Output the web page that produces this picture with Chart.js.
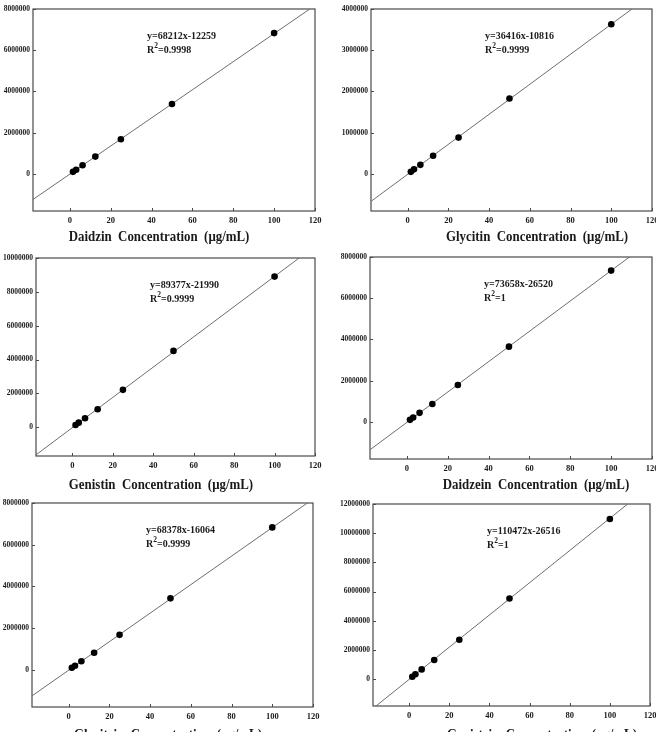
<!DOCTYPE html>
<html><head><meta charset="utf-8">
<script src="https://cdn.jsdelivr.net/npm/chart.js@4.4.1/dist/chart.umd.min.js"></script>
<style>
html,body{margin:0;padding:0;background:#fff;width:656px;height:732px;overflow:hidden;position:relative}
canvas{position:absolute}
</style></head><body>
<script>
// ---------- DATA ----------
const concentrations = [1.5625, 3.125, 6.25, 12.5, 25, 50, 100];
const compounds = ['Daidzin', 'Glycitin', 'Genistin', 'Daidzein', 'Glycitein', 'Genistein'];
const daidzinArea   = [100000, 200000, 420000, 840000, 1680000, 3390000, 6830000];
const glycitinArea  = [50000, 110000, 220000, 440000, 880000, 1830000, 3630000];
const genistinArea  = [130000, 270000, 530000, 1060000, 2210000, 4510000, 8900000];
const daidzeinArea  = [100000, 210000, 440000, 870000, 1790000, 3650000, 7340000];
const glyciteinArea = [100000, 200000, 410000, 820000, 1680000, 3430000, 6830000];
const genisteinArea = [160000, 330000, 660000, 1300000, 2690000, 5520000, 10970000];
const slopes     = [68212, 36416, 89377, 73658, 68378, 110472];
const intercepts = [-12259, -10816, -21990, -26520, -16064, -26516];
const r2Labels   = ['0.9998', '0.9999', '0.9999', '1', '0.9999', '1'];
const xTickValues = [0, 20, 40, 60, 80, 100, 120];
const yTicksDaidzin   = [0, 2000000, 4000000, 6000000, 8000000];
const yTicksGlycitin  = [0, 1000000, 2000000, 3000000, 4000000];
const yTicksGenistin  = [0, 2000000, 4000000, 6000000, 8000000, 10000000];
const yTicksDaidzein  = [0, 2000000, 4000000, 6000000, 8000000];
const yTicksGlycitein = [0, 2000000, 4000000, 6000000, 8000000];
const yTicksGenistein = [0, 2000000, 4000000, 6000000, 8000000, 10000000, 12000000];
const xMin = -18, xMax = 120;
const yMins = [-1800000, -900000, -1700000, -1800000, -1780000, -1850000];
const yMaxs = [8000000, 4000000, 10000000, 8000000, 8000000, 12000000];

const seriesList = [daidzinArea, glycitinArea, genistinArea, daidzeinArea, glyciteinArea, genisteinArea];
const yTickList = [yTicksDaidzin, yTicksGlycitin, yTicksGenistin, yTicksDaidzein, yTicksGlycitein, yTicksGenistein];

// ---------- LAYOUT (page pixels) ----------
const plotAreas = [ // left, top, right, bottom
  [33, 9, 315, 211], [371, 9, 652, 211],
  [36, 258, 315, 456], [370, 257, 652, 459],
  [32, 503, 313, 707], [373, 504, 650, 706]
];
const titleCenters = [[159, 237], [537, 237], [161, 485], [536, 485], [168, 735], [542, 735]];
const Y_W = 34, X_H = 42, PAD_T = 8, PAD_R = 12;
const SERIF = '"Liberation Serif", "Times New Roman", serif';
const INK = '#1a1a1a';

const framePlugin = {
  id: 'frame',
  beforeDatasetsDraw(chart) {
    const {ctx, chartArea: a, scales} = chart;
    ctx.save();
    ctx.strokeStyle = '#4a4a4a';
    ctx.lineWidth = 1.2;
    ctx.strokeRect(a.left, a.top, a.right - a.left, a.bottom - a.top);
    ctx.lineWidth = 1;
    ctx.beginPath();
    scales.x.ticks.forEach(t => {
      const px = Math.round(scales.x.getPixelForValue(t.value)) + 0.5;
      ctx.moveTo(px, a.bottom); ctx.lineTo(px, a.bottom - 3);
    });
    scales.y.ticks.forEach(t => {
      const py = Math.round(scales.y.getPixelForValue(t.value)) + 0.5;
      ctx.moveTo(a.left, py); ctx.lineTo(a.left + 3, py);
    });
    ctx.stroke();
    ctx.restore();
  },
  afterDraw(chart) {
    const o = chart.options.plugins.frame;
    const {ctx, chartArea: a} = chart;
    ctx.save();
    ctx.fillStyle = INK;
    // equation
    ctx.font = 'bold 10px ' + SERIF;
    ctx.textBaseline = 'middle';
    ctx.textAlign = 'left';
    const ex = a.left + 114, ey = a.top + 27;
    ctx.fillText(o.equation, ex, ey);
    ctx.fillText('R', ex, ey + 14);
    const rw = ctx.measureText('R').width;
    ctx.font = 'bold 7.5px ' + SERIF;
    ctx.fillText('2', ex + rw, ey + 10);
    const sw = ctx.measureText('2').width;
    ctx.font = 'bold 10px ' + SERIF;
    ctx.fillText('=' + o.r2, ex + rw + sw, ey + 14);
    // axis title
    ctx.font = 'bold 15px ' + SERIF;
    ctx.textAlign = 'center';
    ctx.translate(o.titleX, o.titleY);
    ctx.scale(0.86, 1);
    ctx.fillText(o.title, 0, 0);
    ctx.restore();
  }
};

function makePanel(i) {
  const [L, T, R, B] = plotAreas[i];
  const left = L - Y_W, top = T - PAD_T;
  const w = R + PAD_R - left, h = B + X_H - top;
  const cv = document.createElement('canvas');
  cv.width = w; cv.height = h;
  cv.style.left = left + 'px'; cv.style.top = top + 'px';
  cv.style.width = w + 'px'; cv.style.height = h + 'px';
  document.body.appendChild(cv);
  const m = slopes[i], b = intercepts[i];
  const eq = 'y=' + m + 'x' + (b < 0 ? '-' : '+') + Math.abs(b);
  const yTicks = yTickList[i];
  new Chart(cv, {
    type: 'scatter',
    data: {
      datasets: [
        {
          type: 'line',
          data: [{x: xMin, y: m * xMin + b}, {x: xMax, y: m * xMax + b}],
          borderColor: '#6e6e6e', borderWidth: 1, pointRadius: 0, fill: false, order: 2
        },
        {
          data: concentrations.map((c, k) => ({x: c, y: seriesList[i][k]})),
          backgroundColor: '#000', borderColor: '#000', pointRadius: 3.3, borderWidth: 0, order: 1
        }
      ]
    },
    options: {
      responsive: false, animation: false, devicePixelRatio: 1,
      layout: {padding: {top: PAD_T, right: PAD_R, left: 0, bottom: 0}},
      plugins: {
        legend: {display: false}, tooltip: {enabled: false},
        frame: {
          equation: eq, r2: r2Labels[i],
          title: compounds[i] + '  Concentration  (\u03BCg/mL)',
          titleX: titleCenters[i][0] - left, titleY: titleCenters[i][1] - top
        }
      },
      scales: {
        x: {
          type: 'linear', min: xMin, max: xMax,
          afterBuildTicks: s => { s.ticks = xTickValues.map(v => ({value: v})); },
          afterFit: s => { s.height = X_H; },
          grid: {display: false, drawTicks: false},
          border: {display: false},
          ticks: {font: {family: SERIF, weight: 'bold', size: 8.5}, color: INK, padding: 5,
                  maxRotation: 0, autoSkip: false}
        },
        y: {
          type: 'linear', min: yMins[i], max: yMaxs[i],
          afterBuildTicks: s => { s.ticks = yTicks.map(v => ({value: v})); },
          afterFit: s => { s.width = Y_W; },
          grid: {display: false, drawTicks: false},
          border: {display: false},
          ticks: {font: {family: SERIF, weight: 'bold', size: 7.5}, color: INK, padding: 3,
                  autoSkip: false, callback: v => String(v)}
        }
      }
    },
    plugins: [framePlugin]
  });
}
for (let i = 0; i < 6; i++) makePanel(i);
</script>
</body></html>
